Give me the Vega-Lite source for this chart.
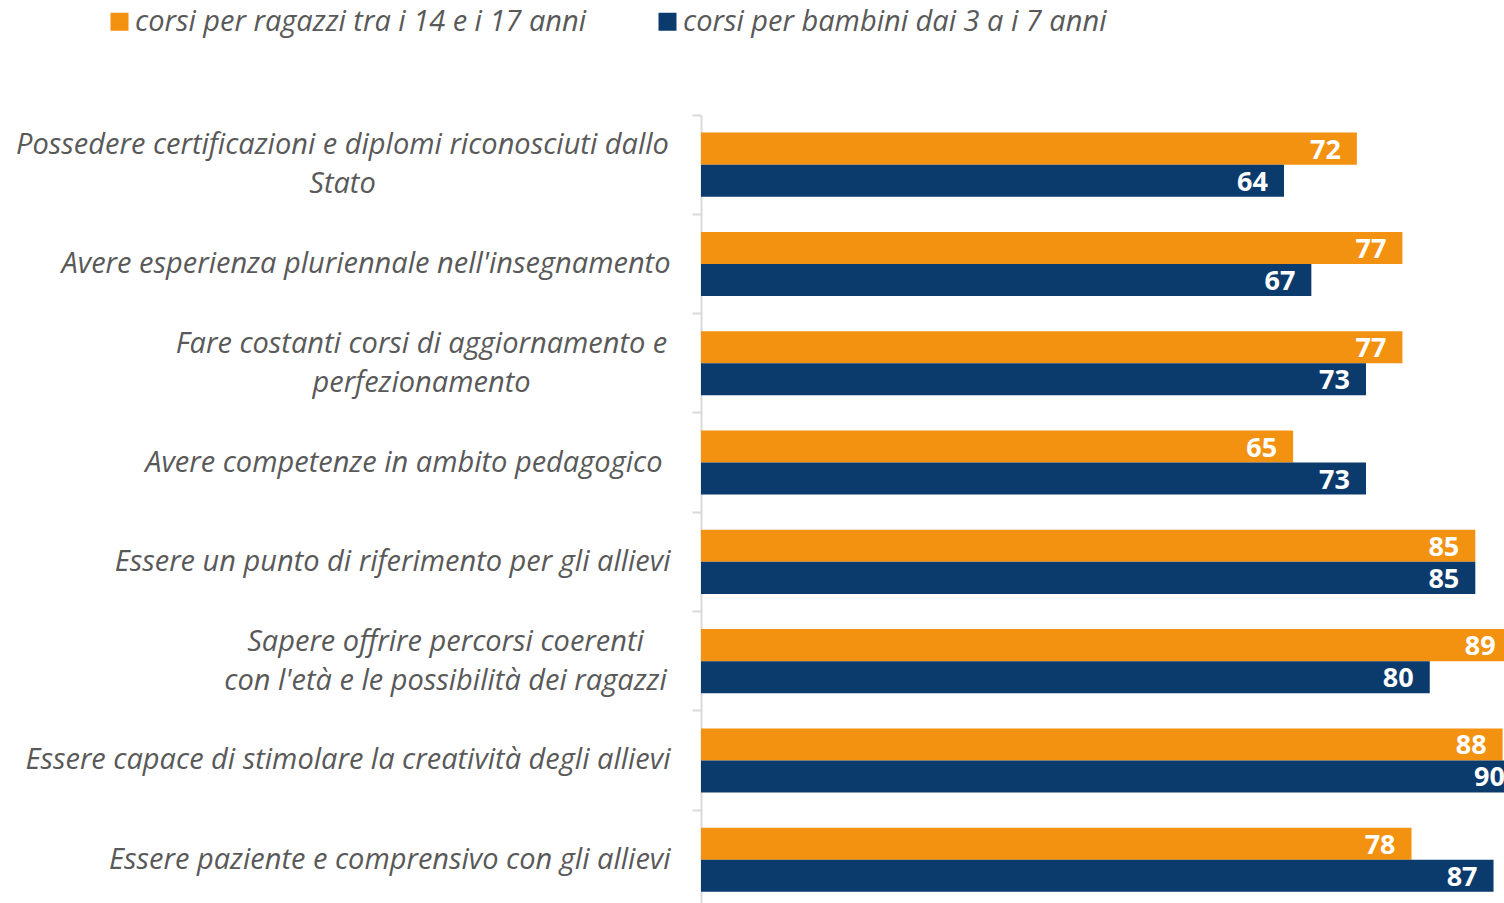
{
  "$schema": "https://vega.github.io/schema/vega-lite/v6.json",
  "autosize": "none",
  "width": 803,
  "height": 788,
  "padding": {"left": 701, "top": 115, "right": 0, "bottom": 0},
  "background": "white",
  "config": {"view": {"stroke": null}, "font": "Open Sans"},
  "data": {"values": [
    {"cat": "Possedere certificazioni e diplomi riconosciuti dallo\nStato", "serie": "corsi per ragazzi tra i 14 e i 17 anni", "v": 72},
    {"cat": "Possedere certificazioni e diplomi riconosciuti dallo\nStato", "serie": "corsi per bambini dai 3 a i 7 anni", "v": 64},
    {"cat": "Avere esperienza pluriennale nell'insegnamento", "serie": "corsi per ragazzi tra i 14 e i 17 anni", "v": 77},
    {"cat": "Avere esperienza pluriennale nell'insegnamento", "serie": "corsi per bambini dai 3 a i 7 anni", "v": 67},
    {"cat": "Fare costanti corsi di aggiornamento e\nperfezionamento", "serie": "corsi per ragazzi tra i 14 e i 17 anni", "v": 77},
    {"cat": "Fare costanti corsi di aggiornamento e\nperfezionamento", "serie": "corsi per bambini dai 3 a i 7 anni", "v": 73},
    {"cat": "Avere competenze in ambito pedagogico", "serie": "corsi per ragazzi tra i 14 e i 17 anni", "v": 65},
    {"cat": "Avere competenze in ambito pedagogico", "serie": "corsi per bambini dai 3 a i 7 anni", "v": 73},
    {"cat": "Essere un punto di riferimento per gli allievi", "serie": "corsi per ragazzi tra i 14 e i 17 anni", "v": 85},
    {"cat": "Essere un punto di riferimento per gli allievi", "serie": "corsi per bambini dai 3 a i 7 anni", "v": 85},
    {"cat": "Sapere offrire percorsi coerenti\ncon l'età e le possibilità dei ragazzi", "serie": "corsi per ragazzi tra i 14 e i 17 anni", "v": 89},
    {"cat": "Sapere offrire percorsi coerenti\ncon l'età e le possibilità dei ragazzi", "serie": "corsi per bambini dai 3 a i 7 anni", "v": 80},
    {"cat": "Essere capace di stimolare la creatività degli allievi", "serie": "corsi per ragazzi tra i 14 e i 17 anni", "v": 88},
    {"cat": "Essere capace di stimolare la creatività degli allievi", "serie": "corsi per bambini dai 3 a i 7 anni", "v": 90},
    {"cat": "Essere paziente e comprensivo con gli allievi", "serie": "corsi per ragazzi tra i 14 e i 17 anni", "v": 78},
    {"cat": "Essere paziente e comprensivo con gli allievi", "serie": "corsi per bambini dai 3 a i 7 anni", "v": 87}
  ]},
  "encoding": {
    "y": {"field": "cat", "type": "nominal", "sort": null, "title": null,
      "scale": {"range": [0, 794.4], "paddingInner": 0, "paddingOuter": 0}},
    "yOffset": {"field": "serie", "type": "nominal", "sort": ["corsi per ragazzi tra i 14 e i 17 anni", "corsi per bambini dai 3 a i 7 anni"],
      "scale": {"paddingInner": 0, "paddingOuter": 0.55}},
    "x": {"field": "v", "type": "quantitative", "title": null,
      "scale": {"domain": [0, 88.15], "nice": false, "zero": true}, "axis": null}
  },
  "layer": [
    {
      "mark": {"type": "bar", "clip": true},
      "encoding": {
        "color": {"field": "serie", "type": "nominal", "title": null,
          "sort": ["corsi per ragazzi tra i 14 e i 17 anni", "corsi per bambini dai 3 a i 7 anni"],
          "scale": {"domain": ["corsi per ragazzi tra i 14 e i 17 anni", "corsi per bambini dai 3 a i 7 anni"], "range": ["#F39110", "#0B3A6D"]},
          "legend": {"orient": "none", "legendX": -596, "legendY": -108, "direction": "horizontal",
            "symbolType": "square", "symbolSize": 324, "symbolStrokeWidth": 0, "labelFontSize": 29,
            "labelFontStyle": "italic", "labelColor": "#595959", "labelOffset": 1, "columnPadding": 66,
            "labelLimit": 800, "title": null}},
        "y": {"field": "cat", "type": "nominal", "sort": null, "title": null,
          "axis": {"orient": "left", "ticks": false, "domain": false, "labelFontSize": 29, "labelFontStyle": "italic",
            "labelColor": "#595959", "labelLimit": 900, "labelLineHeight": 39,
            "labelAlign": {"condition": {"test": "datum.value == 'Possedere certificazioni e diplomi riconosciuti dallo\\nStato' || datum.value == 'Fare costanti corsi di aggiornamento e\\nperfezionamento' || datum.value == 'Sapere offrire percorsi coerenti\\ncon l\\'età e le possibilità dei ragazzi'", "value": "center"}, "value": "right"},
            "labelOffset": {"condition": {"test": "datum.value == 'Possedere certificazioni e diplomi riconosciuti dallo\\nStato' || datum.value == 'Fare costanti corsi di aggiornamento e\\nperfezionamento' || datum.value == 'Sapere offrire percorsi coerenti\\ncon l\\'età e le possibilità dei ragazzi'", "value": -19.5}, "value": 0},
            "labelPadding": {"condition": [
              {"test": "datum.value == 'Possedere certificazioni e diplomi riconosciuti dallo\\nStato'", "value": 359},
              {"test": "datum.value == 'Fare costanti corsi di aggiornamento e\\nperfezionamento'", "value": 280},
              {"test": "datum.value == 'Sapere offrire percorsi coerenti\\ncon l\\'età e le possibilità dei ragazzi'", "value": 256},
              {"test": "datum.value == 'Avere competenze in ambito pedagogico'", "value": 39}
            ], "value": 31},
            "labelExpr": "split(datum.label, '\\n')"}}
      }
    },
    {
      "mark": {"type": "text", "clip": true, "align": "right", "baseline": "middle", "dx": -16, "dy": 2,
        "color": "white", "fontWeight": "bold", "fontSize": 27},
      "encoding": {
        "text": {"field": "v", "type": "quantitative"},
        "y": {"field": "cat", "type": "nominal", "sort": null, "title": null,
          "axis": {"orient": "left", "labels": false, "ticks": true, "tickSize": 9, "tickColor": "#d9d9d9", "tickWidth": 2,
            "bandPosition": 0, "domain": true, "domainColor": "#d9d9d9", "domainWidth": 2}}
      }
    }
  ],
  "resolve": {"axis": {"y": "independent"}}
}
